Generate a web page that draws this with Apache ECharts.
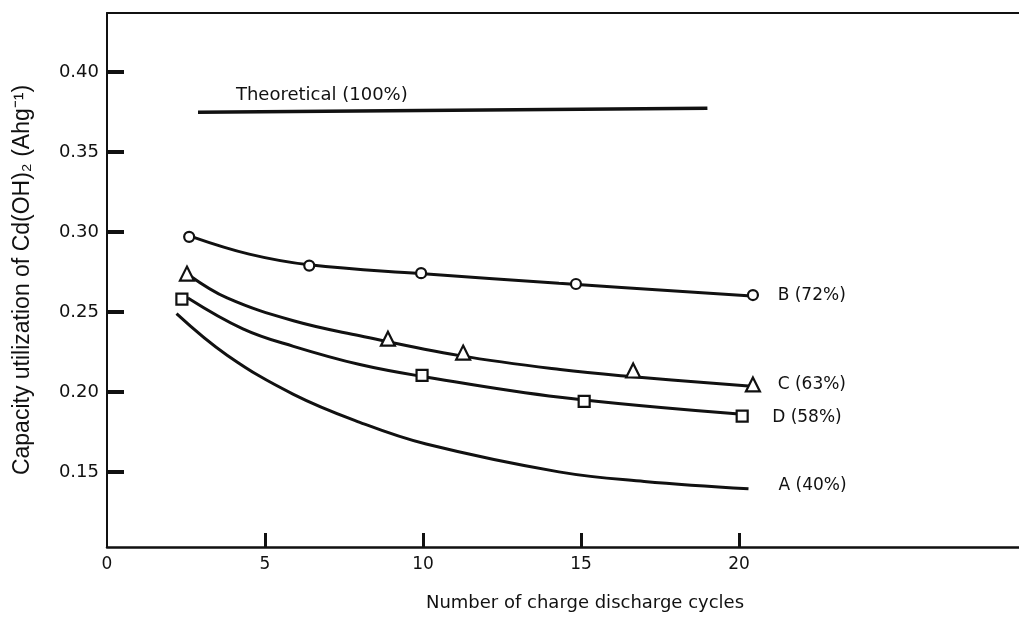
<!DOCTYPE html>
<html>
<head>
<meta charset="utf-8">
<script src="https://cdn.jsdelivr.net/npm/echarts@6/dist/echarts.min.js"></script>
<style>
html,body{margin:0;padding:0;background:#fff;}
#chart{width:1019px;height:617px;}
</style>
</head>
<body>
<div id="chart"></div>
<script>
// ---- data ----
const xTicks = [5, 10, 15, 20];
const xTickLabels = [0, 5, 10, 15, 20];
const yTicks = [0.15, 0.20, 0.25, 0.30, 0.35, 0.40];

const theoretical = [[2.88, 0.375], [19.0, 0.3775]];
const theoreticalLabelAt = [[4.08, 0.3855]];
const theoreticalText = 'Theoretical (100%)';

// fitted curves
const curveB = [[2.7, 0.297], [4.5, 0.2862], [6.4, 0.2795], [9.9, 0.274], [14.3, 0.268], [20.4, 0.260]];
const curveC = [[2.6, 0.273], [3.8, 0.2588], [5.9, 0.2445], [8.0, 0.2351], [11.17, 0.2227], [14.34, 0.214], [16.65, 0.2095], [20.4, 0.2035]];
const curveD = [[2.56, 0.2588], [4.3, 0.2395], [5.9, 0.2285], [8.0, 0.2171], [9.97, 0.2097], [14.34, 0.1966], [20.1, 0.186]];
const curveA = [[2.2, 0.249], [3.8, 0.223], [5.9, 0.1985], [8.0, 0.181], [10.1, 0.1674], [14.3, 0.150], [17.0, 0.144], [20.3, 0.1394]];

// measured points
const pointsB = [[2.6, 0.297], [6.4, 0.279], [9.94, 0.2743], [14.84, 0.2675], [20.44, 0.2606]];
const pointsC = [[2.53, 0.274], [8.89, 0.2333], [11.27, 0.2246], [16.65, 0.2134], [20.44, 0.2047]];
const pointsD = [[2.37, 0.258], [9.97, 0.2103], [15.1, 0.1941], [20.1, 0.1848]];

const labelB = 'B (72%)';
const labelC = 'C (63%)';
const labelD = 'D (58%)';
const labelA = 'A (40%)';

const xTitle = 'Number of charge discharge cycles';
const yTitle = 'Capacity utilization of Cd(OH)\u2082 (Ahg\u207B\u00B9)';

// ---- chart ----
const INK = '#111';
const FONT = 'DejaVu Sans';
const chart = echarts.init(document.getElementById('chart'), null, {renderer: 'canvas'});

function curve(data, label, lblOffset) {
  return {
    type: 'line', data: data, smooth: 0.4, showSymbol: false, symbol: 'none',
    lineStyle: {color: INK, width: 3}, z: 3, silent: true,
    endLabel: {show: true, formatter: label, distance: 26, offset: lblOffset || [0, 0],
      color: INK, fontFamily: FONT, fontSize: 17}
  };
}
function marks(data, symbol, size) {
  return {
    type: 'scatter', data: data, symbol: symbol, symbolSize: size, z: 5, silent: true,
    itemStyle: {color: '#fff', borderColor: INK, borderWidth: 2.2, opacity: 1}
  };
}

chart.setOption({
  animation: false,
  backgroundColor: '#fff',
  grid: {left: 107, right: 0, top: 13, bottom: 66},
  xAxis: [{
    type: 'value', min: 0, max: 28.86,
    axisLine: {show: true, onZero: false, lineStyle: {color: INK, width: 2.5}},
    axisTick: {show: true, inside: true, length: 14, customValues: xTicks, lineStyle: {color: INK, width: 3}},
    axisLabel: {customValues: xTickLabels, margin: 9, color: INK, fontFamily: FONT, fontSize: 17,
      formatter: v => String(v)},
    splitLine: {show: false},
    name: xTitle, nameLocation: 'middle', nameGap: 47,
    nameTextStyle: {color: INK, fontFamily: FONT, fontSize: 18, padding: [0, 0, 0, 44]}
  }, {
    type: 'value', position: 'top', min: 0, max: 28.86,
    axisLine: {show: true, lineStyle: {color: INK, width: 2}},
    axisTick: {show: false}, axisLabel: {show: false}, splitLine: {show: false}
  }],
  yAxis: {
    type: 'value', min: 0.103, max: 0.437,
    axisLine: {show: true, onZero: false, lineStyle: {color: INK, width: 2}},
    axisTick: {show: true, inside: true, length: 17, customValues: yTicks, lineStyle: {color: INK, width: 4}},
    axisLabel: {customValues: yTicks, margin: 8, color: INK, fontFamily: FONT, fontSize: 18,
      formatter: v => v.toFixed(2)},
    splitLine: {show: false},
    name: yTitle, nameLocation: 'middle', nameGap: 73, nameRotate: 90,
    nameTextStyle: {color: INK, fontFamily: 'Liberation Sans', fontSize: 23}
  },
  series: [
    {
      type: 'line', data: theoretical, showSymbol: false, symbol: 'none',
      lineStyle: {color: INK, width: 3.5}, silent: true
    },
    {
      type: 'scatter', data: theoreticalLabelAt, symbolSize: 0, silent: true,
      itemStyle: {opacity: 1},
      label: {show: true, position: 'right', distance: 0, formatter: theoreticalText,
        color: INK, fontFamily: FONT, fontSize: 18}
    },
    curve(curveB, labelB),
    curve(curveC, labelC, [0, -2]),
    curve(curveD, labelD, [4, 3]),
    curve(curveA, labelA, [4, -3]),
    marks(pointsB, 'circle', 10),
    marks(pointsC, 'triangle', 14),
    marks(pointsD, 'rect', 11)
  ]
});
</script>
</body>
</html>
